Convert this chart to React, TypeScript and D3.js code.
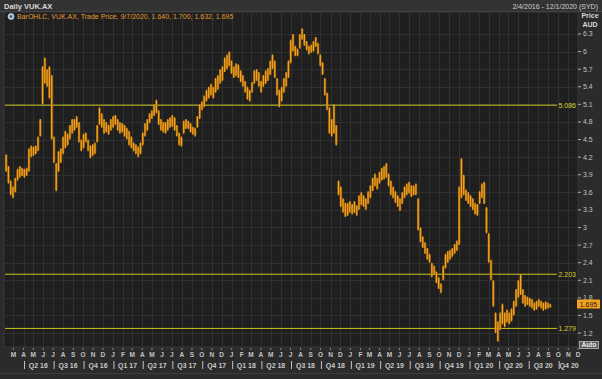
import React from 'react';
import * as d3 from 'd3';

const W = 602;
const H = 379;

const rangeStart = new Date(2016, 1, 4);
const rangeEnd = new Date(2020, 11, 1);
const firstWeek = new Date(2016, 1, 4);

// weekly trading ranges (AUD), one entry per week starting 4 Feb 2016
const weeklyLow = [
  3.95, 3.75, 3.55, 3.50, 3.60, 3.80, 3.85, 3.88, 3.85, 3.88,
  3.95, 4.20, 4.22, 4.25, 4.30, 4.55, 5.10, 5.45, 5.40, 5.20,
  4.50, 4.10, 3.62, 3.95, 4.10, 4.25, 4.35, 4.40, 4.50, 4.60,
  4.65, 4.70, 4.45, 4.30, 4.35, 4.45, 4.30, 4.18, 4.22, 4.25,
  4.45, 4.75, 4.70, 4.60, 4.62, 4.58, 4.65, 4.70, 4.75, 4.65,
  4.60, 4.62, 4.55, 4.50, 4.40, 4.35, 4.30, 4.25, 4.20, 4.25,
  4.40, 4.55, 4.65, 4.78, 4.85, 4.90, 4.95, 4.75, 4.65, 4.62,
  4.60, 4.65, 4.70, 4.72, 4.65, 4.55, 4.40, 4.38, 4.60, 4.68,
  4.68, 4.62, 4.58, 4.55, 4.70, 4.85, 5.00, 5.05, 5.15, 5.20,
  5.25, 5.20, 5.30, 5.35, 5.45, 5.50, 5.65, 5.70, 5.75, 5.62,
  5.55, 5.58, 5.55, 5.48, 5.40, 5.30, 5.18, 5.15, 5.30, 5.45,
  5.50, 5.40, 5.30, 5.40, 5.45, 5.50, 5.60, 5.70, 5.55, 5.25,
  5.05, 5.15, 5.30, 5.40, 5.55, 5.80, 6.00, 5.92, 5.92, 6.05,
  6.20, 6.10, 6.02, 5.95, 5.98, 6.00, 6.08, 5.95, 5.75, 5.60,
  5.25, 5.00, 4.60, 4.55, 4.60, 4.40, 3.55, 3.35, 3.25, 3.18,
  3.20, 3.25, 3.22, 3.25, 3.20, 3.30, 3.38, 3.35, 3.30, 3.40,
  3.50, 3.62, 3.70, 3.65, 3.75, 3.80, 3.82, 3.85, 3.70, 3.55,
  3.50, 3.42, 3.35, 3.28, 3.40, 3.50, 3.55, 3.58, 3.52, 3.55,
  3.55, 2.95, 2.75, 2.65, 2.55, 2.45, 2.40, 2.15, 2.20, 2.05,
  1.95, 1.88, 2.10, 2.30, 2.40, 2.45, 2.50, 2.55, 2.60, 2.70,
  3.50, 3.55, 3.45, 3.40, 3.35, 3.30, 3.22, 3.20, 3.40, 3.50,
  3.40, 2.90, 2.40, 2.10, 1.65, 1.20, 1.05, 1.25, 1.35, 1.30,
  1.38, 1.35, 1.40, 1.50, 1.65, 1.80, 1.85, 1.70, 1.65, 1.68,
  1.65, 1.62, 1.58, 1.60, 1.65, 1.62, 1.58, 1.60, 1.62, 1.63,
];
const weeklyHigh = [
  4.25, 4.05, 3.80, 3.70, 3.85, 4.00, 4.05, 4.02, 4.00, 4.02,
  4.35, 4.40, 4.38, 4.40, 4.55, 4.85, 5.75, 5.90, 5.70, 5.75,
  5.60, 4.55, 4.10, 4.30, 4.35, 4.55, 4.65, 4.60, 4.75, 4.85,
  4.85, 4.90, 4.80, 4.50, 4.60, 4.62, 4.50, 4.40, 4.42, 4.45,
  4.75, 5.05, 4.95, 4.85, 4.80, 4.75, 4.85, 4.90, 4.92, 4.85,
  4.80, 4.78, 4.75, 4.70, 4.65, 4.55, 4.45, 4.42, 4.38, 4.45,
  4.62, 4.78, 4.85, 4.95, 5.00, 5.10, 5.18, 5.00, 4.85, 4.80,
  4.80, 4.85, 4.88, 4.92, 4.88, 4.75, 4.62, 4.55, 4.82, 4.85,
  4.82, 4.78, 4.72, 4.70, 4.90, 5.10, 5.15, 5.25, 5.35, 5.40,
  5.45, 5.40, 5.55, 5.60, 5.70, 5.75, 5.90, 5.95, 6.00, 5.85,
  5.75, 5.80, 5.78, 5.68, 5.60, 5.50, 5.40, 5.35, 5.48, 5.68,
  5.70, 5.65, 5.50, 5.60, 5.68, 5.72, 5.85, 5.95, 5.85, 5.55,
  5.35, 5.40, 5.55, 5.65, 5.85, 6.20, 6.30, 6.10, 6.05, 6.30,
  6.40, 6.30, 6.18, 6.10, 6.12, 6.18, 6.25, 6.15, 5.95, 5.82,
  5.55, 5.30, 5.05, 4.85, 5.10, 4.75, 3.80, 3.70, 3.50, 3.42,
  3.42, 3.45, 3.40, 3.45, 3.38, 3.55, 3.60, 3.55, 3.50, 3.62,
  3.72, 3.85, 3.92, 3.85, 3.95, 4.02, 4.05, 4.10, 3.92, 3.80,
  3.70, 3.62, 3.55, 3.50, 3.60, 3.70, 3.75, 3.78, 3.72, 3.72,
  3.75, 3.50, 3.00, 2.85, 2.75, 2.65, 2.55, 2.40, 2.35, 2.25,
  2.15, 2.05, 2.35, 2.55, 2.60, 2.62, 2.65, 2.72, 2.78, 3.70,
  4.18, 3.90, 3.65, 3.60, 3.55, 3.50, 3.42, 3.40, 3.62, 3.75,
  3.78, 3.35, 2.90, 2.45, 2.10, 1.55, 1.40, 1.55, 1.70, 1.55,
  1.60, 1.55, 1.62, 1.75, 1.95, 2.10, 2.20, 1.95, 1.85, 1.82,
  1.80, 1.78, 1.72, 1.75, 1.78, 1.75, 1.72, 1.74, 1.72, 1.70,
];

const yTickValues = [6.3, 6, 5.7, 5.4, 5.1, 4.8, 4.5, 4.2, 3.9, 3.6, 3.3, 3, 2.7, 2.4, 2.1, 1.8, 1.5, 1.2];
const levelLines = [5.086, 2.203, 1.279];
const lastClose = 1.695;
const titleText = 'Daily VUK.AX';
const legendText = 'BarOHLC, VUK.AX, Trade Price, 9/7/2020, 1.640, 1.700, 1.632, 1.695';
const rangeText = '2/4/2016 - 12/1/2020 (SYD)';

const FONT = '"Liberation Sans", Arial, sans-serif';

export default function App() {
  const left = 5;
  const right = 578;
  const top = 12;
  const bottom = 347;
  const x = d3.scaleTime().domain([rangeStart, rangeEnd]).range([left, right]);
  const y = d3.scaleLinear().domain([0.962, 6.675]).range([bottom, top]);

  const months = d3.timeMonth.range(new Date(2016, 2, 1), new Date(2020, 11, 2));
  const quarters = d3.timeMonth.every(3)!.range(new Date(2016, 3, 1), new Date(2020, 11, 2));
  const monthLetter = (d: Date) => d3.timeFormat('%b')(d)[0];
  const fmtTick = (v: number) => d3.format('~g')(v);

  const bars = weeklyLow.map((lo, i) => {
    const d0 = d3.timeDay.offset(firstWeek, 7 * i);
    const d1 = d3.timeDay.offset(firstWeek, 7 * i + 7);
    return { x0: x(d0), x1: x(d1), lo, hi: weeklyHigh[i] };
  });

  return (
    <svg width={W} height={H} style={{ position: 'fixed', left: 0, top: 0, display: 'block' }}
      fontFamily={FONT}>
      <rect x={0} y={0} width={W} height={H} fill="#2b2b2b" />
      {/* header */}
      <rect x={0} y={0} width={W} height={11} fill="#333333" />
      <line x1={0} x2={W} y1={11.5} y2={11.5} stroke="#4a4a4a" />
      <text x={4} y={8.5} fontSize={7.5} fontWeight="bold" fill="#d8d8d8">{titleText}</text>
      <text x={598} y={8.5} fontSize={7} fill="#d0d0d0" textAnchor="end">{rangeText}</text>

      {/* plot panel */}
      <rect x={left - 1} y={top} width={right - left + 1} height={bottom - top} fill="#1f1f1f" stroke="#3a3a3a" />
      <g stroke="#303030" strokeWidth={1}>
        {months.map((d, i) => (
          <line key={'vg' + i} x1={Math.round(x(d)) + 0.5} x2={Math.round(x(d)) + 0.5} y1={top + 1} y2={bottom} />
        ))}
        {yTickValues.map((v, i) => (
          <line key={'hg' + i} x1={left} x2={right} y1={Math.round(y(v)) + 0.5} y2={Math.round(y(v)) + 0.5} />
        ))}
      </g>

      {/* legend */}
      <circle cx={11} cy={16.5} r={3} fill="#a8c4e0" stroke="#e0e0e0" strokeWidth={0.6} />
      <circle cx={11} cy={16.5} r={1.2} fill="#3a4a60" />
      <text x={17} y={19} fontSize={7} fill="#e09a30">{legendText}</text>

      {/* level lines */}
      {levelLines.map((v, i) => (
        <g key={'lv' + i}>
          <line x1={left} x2={557} y1={y(v)} y2={y(v)} stroke="#c8c81e" strokeWidth={1} />
          <text x={576} y={y(v) + 2.5} fontSize={7} fill="#d2d22a" textAnchor="end">{d3.format('.3f')(v)}</text>
        </g>
      ))}

      {/* price bars */}
      <g>
        {bars.map((b, i) => (
          <rect key={'b' + i} x={b.x0} width={b.x1 - b.x0 + 0.2} y={y(b.hi) + 1} height={Math.max(1, y(b.lo) - y(b.hi) - 2)} fill="#9a620e" opacity={0.85} />
        ))}
        {bars.map((b, i) => (
          <line key={'bl' + i} x1={(b.x0 + b.x1) / 2} x2={(b.x0 + b.x1) / 2} y1={y(b.hi)}
            y2={y(b.lo)} stroke="#f5a21c" strokeWidth={1.3} />
        ))}
      </g>

      {/* right axis */}
      <text x={590} y={18} fontSize={7} fontWeight="bold" fill="#d8d8d8" textAnchor="middle">Price</text>
      <text x={590} y={27} fontSize={7} fontWeight="bold" fill="#d8d8d8" textAnchor="middle">AUD</text>
      {yTickValues.map((v, i) => (
        <g key={'yt' + i}>
          <line x1={right} x2={right + 3} y1={y(v)} y2={y(v)} stroke="#b0b0b0" />
          <text x={right + 5} y={y(v) + 2.5} fontSize={7} fill="#c0c0c0">{fmtTick(v)}</text>
        </g>
      ))}
      <rect x={577} y={y(lastClose) - 4.5} width={23} height={9} fill="#f2a21e" />
      <text x={588.5} y={y(lastClose) + 2.5} fontSize={7} fill="#1a1a1a" textAnchor="middle">{d3.format('.3f')(lastClose)}</text>
      <rect x={579.5} y={341.5} width={19} height={7} fill="#5a5a5a" stroke="#bdbdbd" strokeWidth={0.8} />
      <text x={589} y={347.3} fontSize={6.5} fontWeight="bold" fill="#eeeeee" textAnchor="middle">Auto</text>

      {/* bottom axis */}
      {months.map((d, i) => (
        <g key={'mt' + i}>
          <line x1={x(d)} x2={x(d)} y1={bottom + 1} y2={bottom + 3} stroke="#8a8a8a" />
          <text x={x(d)} y={357} fontSize={6.5} fontWeight="bold" fill="#c4c4c4" textAnchor="middle">{monthLetter(d)}</text>
        </g>
      ))}
      {quarters.map((q, i) => {
        const qEnd = d3.timeMonth.offset(q, 3);
        const x0 = x(q);
        const x1 = Math.min(x(qEnd), right);
        const label = `Q${Math.floor(q.getMonth() / 3) + 1} ${String(q.getFullYear()).slice(2)}`;
        return (
          <g key={'q' + i}>
            <line x1={x0 + 1} x2={x0 + 1} y1={361} y2={369} stroke="#c4c4c4" />
            <text x={Math.max((x0 + x1) / 2, x0 + 11)} y={368} fontSize={7} fontWeight="bold" fill="#c8c8c8" textAnchor="middle">{label}</text>
          </g>
        );
      })}
      <line x1={0} x2={W} y1={373.5} y2={373.5} stroke="#3c3c3c" />
    </svg>
  );
}
